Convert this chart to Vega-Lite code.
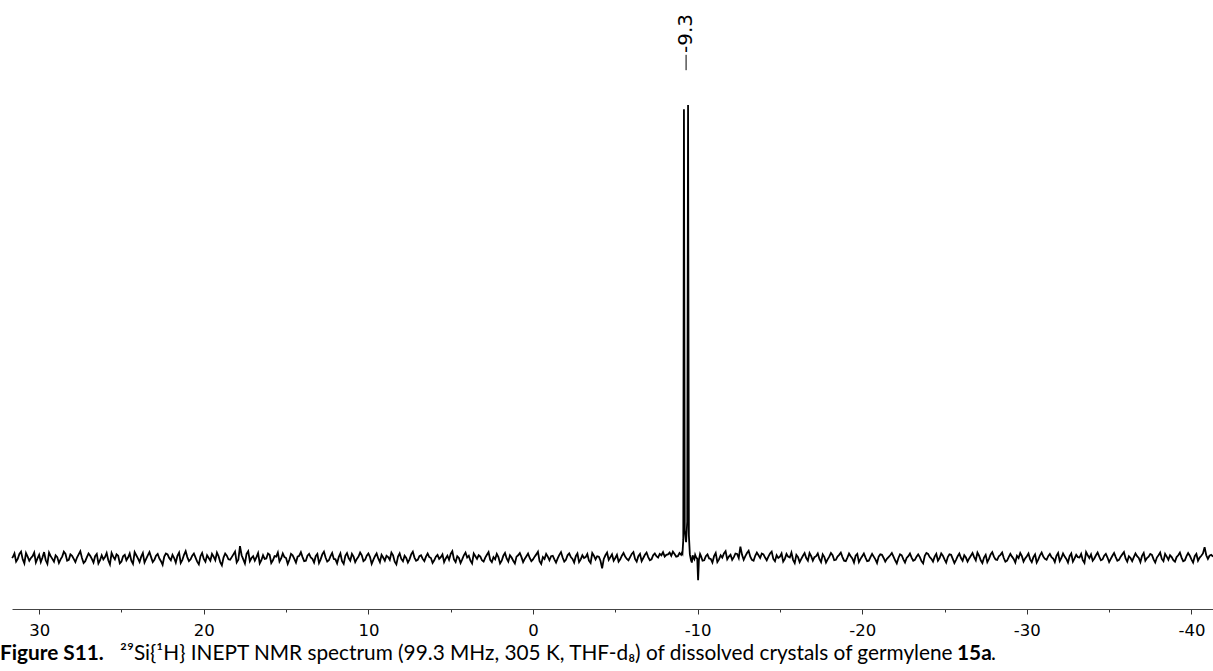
{
"$schema": "https://vega.github.io/schema/vega-lite/v6.json",
"width": 1201,
"height": 609,
"autosize": {"type": "none"},
"padding": {"left": 12, "top": 0, "right": 0, "bottom": 62},
"background": "white",
"config": {"view": {"stroke": null}},
"datasets": {
"spectrum": [
{"ppm":31.65,"i":0.0},
{"ppm":31.6,"i":0.2},{"ppm":31.5,"i":1.0},{"ppm":31.4,"i":-0.8},{"ppm":31.3,"i":-0.2},{"ppm":31.2,"i":0.9},{"ppm":31.1,"i":1.4},{"ppm":31.0,"i":-0.3},{"ppm":30.9,"i":-1.2},{"ppm":30.8,"i":1.1},{"ppm":30.7,"i":0.3},{"ppm":30.6,"i":-0.6},{"ppm":30.5,"i":0.0},{"ppm":30.4,"i":0.4},{"ppm":30.3,"i":1.2},{"ppm":30.2,"i":-1.0},{"ppm":30.1,"i":-0.1},{"ppm":30.0,"i":0.7},{"ppm":29.9,"i":-0.9},{"ppm":29.8,"i":0.1},{"ppm":29.7,"i":1.3},
{"ppm":29.6,"i":-0.5},{"ppm":29.5,"i":-1.3},{"ppm":29.4,"i":1.2},{"ppm":29.3,"i":0.4},{"ppm":29.2,"i":-0.2},{"ppm":29.1,"i":-0.8},{"ppm":29.0,"i":0.6},{"ppm":28.9,"i":0.2},{"ppm":28.8,"i":-1.1},{"ppm":28.7,"i":-0.3},{"ppm":28.6,"i":0.3},{"ppm":28.5,"i":1.4},{"ppm":28.4,"i":0.9},{"ppm":28.3,"i":-0.6},{"ppm":28.2,"i":-0.4},{"ppm":28.1,"i":0.8},{"ppm":28.0,"i":0.5},{"ppm":27.9,"i":-0.2},{"ppm":27.8,"i":-0.9},{"ppm":27.7,"i":0.1},
{"ppm":27.6,"i":0.8},{"ppm":27.5,"i":1.5},{"ppm":27.4,"i":0.0},{"ppm":27.3,"i":-1.1},{"ppm":27.2,"i":-0.7},{"ppm":27.1,"i":0.2},{"ppm":27.0,"i":1.0},{"ppm":26.9,"i":0.5},{"ppm":26.8,"i":-0.2},{"ppm":26.7,"i":-1.0},{"ppm":26.6,"i":0.4},{"ppm":26.5,"i":0.9},{"ppm":26.4,"i":-1.2},{"ppm":26.3,"i":-0.5},{"ppm":26.2,"i":0.6},{"ppm":26.1,"i":-0.3},{"ppm":26.0,"i":0.2},{"ppm":25.9,"i":1.1},{"ppm":25.8,"i":-0.5},{"ppm":25.7,"i":-1.4},
{"ppm":25.6,"i":1.1},{"ppm":25.5,"i":0.3},{"ppm":25.4,"i":-0.3},{"ppm":25.3,"i":0.8},{"ppm":25.2,"i":0.5},{"ppm":25.1,"i":-1.2},{"ppm":25.0,"i":-0.8},{"ppm":24.9,"i":0.4},{"ppm":24.8,"i":0.7},{"ppm":24.7,"i":-0.5},{"ppm":24.6,"i":0.1},{"ppm":24.5,"i":1.0},{"ppm":24.4,"i":-0.6},{"ppm":24.3,"i":-1.3},{"ppm":24.2,"i":1.3},{"ppm":24.1,"i":0.6},{"ppm":24.0,"i":-0.1},{"ppm":23.9,"i":-0.9},{"ppm":23.8,"i":0.3},{"ppm":23.7,"i":1.1},
{"ppm":23.6,"i":-1.0},{"ppm":23.5,"i":-0.2},{"ppm":23.4,"i":0.6},{"ppm":23.3,"i":1.3},{"ppm":23.2,"i":0.2},{"ppm":23.1,"i":-0.9},{"ppm":23.0,"i":-0.4},{"ppm":22.9,"i":0.5},{"ppm":22.8,"i":0.9},{"ppm":22.7,"i":-0.1},{"ppm":22.6,"i":-0.7},{"ppm":22.5,"i":-1.5},{"ppm":22.4,"i":0.3},{"ppm":22.3,"i":1.0},{"ppm":22.2,"i":0.8},{"ppm":22.1,"i":0.0},{"ppm":22.0,"i":-0.5},{"ppm":21.9,"i":0.7},{"ppm":21.8,"i":0.0},{"ppm":21.7,"i":-1.0},
{"ppm":21.6,"i":0.5},{"ppm":21.5,"i":1.2},{"ppm":21.4,"i":-1.1},{"ppm":21.3,"i":-0.4},{"ppm":21.2,"i":0.7},{"ppm":21.1,"i":1.5},{"ppm":21.0,"i":0.2},{"ppm":20.9,"i":-0.7},{"ppm":20.8,"i":-0.3},{"ppm":20.7,"i":0.5},{"ppm":20.6,"i":1.0},{"ppm":20.5,"i":0.1},{"ppm":20.4,"i":-0.8},{"ppm":20.3,"i":-1.4},{"ppm":20.2,"i":0.4},{"ppm":20.1,"i":1.1},{"ppm":20.0,"i":-0.2},{"ppm":19.9,"i":-0.8},{"ppm":19.8,"i":0.6},{"ppm":19.7,"i":0.0},
{"ppm":19.6,"i":-0.6},{"ppm":19.5,"i":0.9},{"ppm":19.4,"i":0.3},{"ppm":19.3,"i":-0.5},{"ppm":19.2,"i":1.2},{"ppm":19.1,"i":0.4},{"ppm":19.0,"i":-0.9},{"ppm":18.9,"i":-1.6},{"ppm":18.8,"i":0.1},{"ppm":18.7,"i":1.0},{"ppm":18.6,"i":0.5},{"ppm":18.5,"i":-0.3},{"ppm":18.4,"i":-0.4},{"ppm":18.3,"i":0.2},{"ppm":18.2,"i":0.8},{"ppm":18.1,"i":1.4},{"ppm":18.0,"i":-1.0},{"ppm":17.9,"i":-0.4},{"ppm":17.8,"i":2.6},{"ppm":17.7,"i":0.6},
{"ppm":17.6,"i":-0.3},{"ppm":17.5,"i":-1.2},{"ppm":17.4,"i":0.9},{"ppm":17.3,"i":1.5},{"ppm":17.2,"i":-0.7},{"ppm":17.1,"i":0.0},{"ppm":17.0,"i":0.4},{"ppm":16.9,"i":-0.6},{"ppm":16.8,"i":0.2},{"ppm":16.7,"i":1.1},{"ppm":16.6,"i":-1.2},{"ppm":16.5,"i":-0.5},{"ppm":16.4,"i":0.6},{"ppm":16.3,"i":-0.2},{"ppm":16.2,"i":-0.1},{"ppm":16.1,"i":1.0},{"ppm":16.0,"i":0.7},{"ppm":15.9,"i":-1.1},{"ppm":15.8,"i":-0.5},{"ppm":15.7,"i":0.4},
{"ppm":15.6,"i":0.3},{"ppm":15.5,"i":1.2},{"ppm":15.4,"i":-0.8},{"ppm":15.3,"i":-0.1},{"ppm":15.2,"i":1.0},{"ppm":15.1,"i":0.2},{"ppm":15.0,"i":0.0},{"ppm":14.9,"i":-1.3},{"ppm":14.8,"i":-0.4},{"ppm":14.7,"i":0.9},{"ppm":14.6,"i":0.6},{"ppm":14.5,"i":-0.2},{"ppm":14.4,"i":-1.0},{"ppm":14.3,"i":0.3},{"ppm":14.2,"i":0.5},{"ppm":14.1,"i":1.3},{"ppm":14.0,"i":0.2},{"ppm":13.9,"i":-0.7},{"ppm":13.8,"i":-0.6},{"ppm":13.7,"i":0.5},
{"ppm":13.6,"i":0.9},{"ppm":13.5,"i":0.1},{"ppm":13.4,"i":-0.2},{"ppm":13.3,"i":-1.0},{"ppm":13.2,"i":0.4},{"ppm":13.1,"i":0.9},{"ppm":13.0,"i":-1.1},{"ppm":12.9,"i":-0.3},{"ppm":12.8,"i":0.8},{"ppm":12.7,"i":1.4},{"ppm":12.6,"i":0.1},{"ppm":12.5,"i":-0.8},{"ppm":12.4,"i":-0.5},{"ppm":12.3,"i":0.4},{"ppm":12.2,"i":1.1},{"ppm":12.1,"i":-0.2},{"ppm":12.0,"i":-0.3},{"ppm":11.9,"i":-1.2},{"ppm":11.8,"i":0.2},{"ppm":11.7,"i":1.0},
{"ppm":11.6,"i":-0.7},{"ppm":11.5,"i":-1.3},{"ppm":11.4,"i":0.5},{"ppm":11.3,"i":1.1},{"ppm":11.2,"i":0.0},{"ppm":11.1,"i":-0.6},{"ppm":11.0,"i":0.9},{"ppm":10.9,"i":0.3},{"ppm":10.8,"i":-0.9},{"ppm":10.7,"i":-0.2},{"ppm":10.6,"i":0.3},{"ppm":10.5,"i":1.2},{"ppm":10.4,"i":0.6},{"ppm":10.3,"i":-0.7},{"ppm":10.2,"i":-0.4},{"ppm":10.1,"i":0.5},{"ppm":10.0,"i":1.0},{"ppm":9.9,"i":0.2},{"ppm":9.8,"i":-1.3},{"ppm":9.7,"i":-0.4},
{"ppm":9.6,"i":0.4},{"ppm":9.5,"i":1.0},{"ppm":9.4,"i":-0.1},{"ppm":9.3,"i":-0.9},{"ppm":9.2,"i":0.7},{"ppm":9.1,"i":0.1},{"ppm":9.0,"i":-0.6},{"ppm":8.9,"i":0.5},{"ppm":8.8,"i":0.2},{"ppm":8.7,"i":-0.4},{"ppm":8.6,"i":1.2},{"ppm":8.5,"i":0.6},{"ppm":8.4,"i":-0.8},{"ppm":8.3,"i":-1.4},{"ppm":8.2,"i":0.3},{"ppm":8.1,"i":1.0},{"ppm":8.0,"i":-0.2},{"ppm":7.9,"i":-0.7},{"ppm":7.8,"i":0.5},{"ppm":7.7,"i":0.0},
{"ppm":7.6,"i":-1.0},{"ppm":7.5,"i":-0.3},{"ppm":7.4,"i":0.8},{"ppm":7.3,"i":1.4},{"ppm":7.2,"i":0.1},{"ppm":7.1,"i":-0.6},{"ppm":7.0,"i":-0.4},{"ppm":6.9,"i":0.4},{"ppm":6.8,"i":0.6},{"ppm":6.7,"i":-0.2},{"ppm":6.6,"i":-0.7},{"ppm":6.5,"i":0.3},{"ppm":6.4,"i":1.0},{"ppm":6.3,"i":0.2},{"ppm":6.2,"i":0.0},{"ppm":6.1,"i":-1.1},{"ppm":6.0,"i":-0.5},{"ppm":5.9,"i":0.3},{"ppm":5.8,"i":0.7},{"ppm":5.7,"i":-0.2},
{"ppm":5.6,"i":0.2},{"ppm":5.5,"i":0.8},{"ppm":5.4,"i":-0.9},{"ppm":5.3,"i":-0.1},{"ppm":5.2,"i":0.5},{"ppm":5.1,"i":-0.4},{"ppm":5.0,"i":0.9},{"ppm":4.9,"i":1.5},{"ppm":4.8,"i":-0.3},{"ppm":4.7,"i":-0.9},{"ppm":4.6,"i":0.4},{"ppm":4.5,"i":0.0},{"ppm":4.4,"i":-1.1},{"ppm":4.3,"i":-0.3},{"ppm":4.2,"i":0.6},{"ppm":4.1,"i":1.2},{"ppm":4.0,"i":0.1},{"ppm":3.9,"i":0.5},{"ppm":3.8,"i":-0.6},{"ppm":3.7,"i":-1.2},
{"ppm":3.6,"i":1.0},{"ppm":3.5,"i":0.4},{"ppm":3.4,"i":-0.2},{"ppm":3.3,"i":0.6},{"ppm":3.2,"i":0.3},{"ppm":3.1,"i":-0.5},{"ppm":3.0,"i":-0.8},{"ppm":2.9,"i":0.1},{"ppm":2.8,"i":0.7},{"ppm":2.7,"i":1.3},{"ppm":2.6,"i":-0.4},{"ppm":2.5,"i":-0.9},{"ppm":2.4,"i":0.2},{"ppm":2.3,"i":-0.3},{"ppm":2.2,"i":0.9},{"ppm":2.1,"i":0.2},{"ppm":2.0,"i":-1.2},{"ppm":1.9,"i":-0.6},{"ppm":1.8,"i":0.5},{"ppm":1.7,"i":1.1},
{"ppm":1.6,"i":-0.1},{"ppm":1.5,"i":-0.8},{"ppm":1.4,"i":0.6},{"ppm":1.3,"i":0.1},{"ppm":1.2,"i":-0.6},{"ppm":1.1,"i":-1.2},{"ppm":1.0,"i":0.3},{"ppm":0.9,"i":0.6},{"ppm":0.8,"i":1.1},{"ppm":0.7,"i":0.2},{"ppm":0.6,"i":-0.9},{"ppm":0.5,"i":-0.2},{"ppm":0.4,"i":0.4},{"ppm":0.3,"i":1.0},{"ppm":0.2,"i":0.0},{"ppm":0.1,"i":-0.7},{"ppm":0.0,"i":-0.3},{"ppm":-0.1,"i":0.3},{"ppm":-0.2,"i":0.8},{"ppm":-0.3,"i":1.4},
{"ppm":-0.4,"i":-0.7},{"ppm":-0.5,"i":-1.3},{"ppm":-0.6,"i":0.2},{"ppm":-0.7,"i":-0.2},{"ppm":-0.8,"i":0.9},{"ppm":-0.9,"i":0.3},{"ppm":-1.0,"i":-0.5},{"ppm":-1.1,"i":0.4},{"ppm":-1.2,"i":0.5},{"ppm":-1.3,"i":-0.3},{"ppm":-1.4,"i":-1.0},{"ppm":-1.5,"i":-0.1},{"ppm":-1.6,"i":0.7},{"ppm":-1.7,"i":1.3},{"ppm":-1.8,"i":0.1},{"ppm":-1.9,"i":-0.8},{"ppm":-2.0,"i":-0.4},{"ppm":-2.1,"i":0.6},{"ppm":-2.2,"i":1.0},{"ppm":-2.3,"i":0.2},
{"ppm":-2.4,"i":-0.2},{"ppm":-2.5,"i":-1.0},{"ppm":-2.6,"i":0.4},{"ppm":-2.7,"i":1.0},{"ppm":-2.8,"i":-0.9},{"ppm":-2.9,"i":-0.3},{"ppm":-3.0,"i":0.6},{"ppm":-3.1,"i":0.0},{"ppm":-3.2,"i":0.2},{"ppm":-3.3,"i":0.9},{"ppm":-3.4,"i":-0.6},{"ppm":-3.5,"i":-1.1},{"ppm":-3.6,"i":1.1},{"ppm":-3.7,"i":0.5},{"ppm":-3.8,"i":-0.3},{"ppm":-3.9,"i":0.4},{"ppm":-4.0,"i":0.3},{"ppm":-4.1,"i":-0.6},{"ppm":-4.2,"i":-2.3},{"ppm":-4.3,"i":-0.2},
{"ppm":-4.4,"i":0.6},{"ppm":-4.5,"i":1.2},{"ppm":-4.6,"i":-0.4},{"ppm":-4.7,"i":0.2},{"ppm":-4.8,"i":0.8},{"ppm":-4.9,"i":-0.6},{"ppm":-5.0,"i":0.0},{"ppm":-5.1,"i":0.7},{"ppm":-5.2,"i":-0.8},{"ppm":-5.3,"i":-0.3},{"ppm":-5.4,"i":0.5},{"ppm":-5.5,"i":1.1},{"ppm":-5.6,"i":0.3},{"ppm":-5.7,"i":-0.2},{"ppm":-5.8,"i":-0.5},{"ppm":-5.9,"i":0.2},{"ppm":-6.0,"i":0.9},{"ppm":-6.1,"i":1.3},{"ppm":-6.2,"i":-0.2},{"ppm":-6.3,"i":-0.8},
{"ppm":-6.4,"i":0.4},{"ppm":-6.5,"i":0.9},{"ppm":-6.6,"i":-0.7},{"ppm":-6.7,"i":0.0},{"ppm":-6.8,"i":0.7},{"ppm":-6.9,"i":1.2},{"ppm":-7.0,"i":0.2},{"ppm":-7.1,"i":-0.5},{"ppm":-7.2,"i":-0.3},{"ppm":-7.3,"i":0.6},{"ppm":-7.4,"i":1.0},{"ppm":-7.5,"i":0.4},{"ppm":-7.6,"i":0.1},{"ppm":-7.7,"i":0.9},{"ppm":-7.8,"i":0.6},{"ppm":-7.9,"i":1.3},{"ppm":-8.0,"i":0.3},{"ppm":-8.1,"i":0.7},{"ppm":-8.2,"i":0.8},{"ppm":-8.3,"i":1.2},
{"ppm":-8.4,"i":0.5},{"ppm":-8.5,"i":1.4},{"ppm":-8.6,"i":0.9},{"ppm":-8.7,"i":0.3},{"ppm":-8.8,"i":0.4},{"ppm":-8.9,"i":1.1},{"ppm":-9.0,"i":0.7},{"ppm":-9.05,"i":1.2},{"ppm":-9.08,"i":1.0},{"ppm":-9.13,"i":4.0},{"ppm":-9.17,"i":99.1},{"ppm":-9.22,"i":6.0},{"ppm":-9.3,"i":3.5},{"ppm":-9.37,"i":8.0},{"ppm":-9.42,"i":100},{"ppm":-9.47,"i":5.0},{"ppm":-9.53,"i":0.8},{"ppm":-9.6,"i":-0.5},{"ppm":-9.65,"i":-1.0},{"ppm":-9.7,"i":0.6},{"ppm":-9.75,"i":0.0},{"ppm":-9.8,"i":-0.3},{"ppm":-9.85,"i":0.7},{"ppm":-9.9,"i":0.2},{"ppm":-9.98,"i":-0.2},{"ppm":-10.03,"i":-4.9},{"ppm":-10.08,"i":-0.4},{"ppm":-10.15,"i":0.9},{"ppm":-10.2,"i":0.5},{"ppm":-10.3,"i":-0.6},
{"ppm":-10.4,"i":-0.5},{"ppm":-10.5,"i":0.4},{"ppm":-10.6,"i":0.8},{"ppm":-10.7,"i":-0.1},{"ppm":-10.8,"i":-0.2},{"ppm":-10.9,"i":-1.0},{"ppm":-11.0,"i":0.4},{"ppm":-11.1,"i":1.1},{"ppm":-11.2,"i":-0.9},{"ppm":-11.3,"i":-0.3},{"ppm":-11.4,"i":0.6},{"ppm":-11.5,"i":0.1},{"ppm":-11.6,"i":1.0},{"ppm":-11.7,"i":1.5},{"ppm":-11.8,"i":-0.3},{"ppm":-11.9,"i":0.3},{"ppm":-12.0,"i":0.7},{"ppm":-12.1,"i":-0.4},{"ppm":-12.2,"i":0.2},{"ppm":-12.3,"i":1.0},
{"ppm":-12.4,"i":0.9},{"ppm":-12.5,"i":0.0},{"ppm":-12.6,"i":2.5},{"ppm":-12.7,"i":0.7},{"ppm":-12.8,"i":-0.4},{"ppm":-12.9,"i":0.4},{"ppm":-13.0,"i":1.1},{"ppm":-13.1,"i":1.6},{"ppm":-13.2,"i":0.3},{"ppm":-13.3,"i":-0.4},{"ppm":-13.4,"i":-0.6},{"ppm":-13.5,"i":0.5},{"ppm":-13.6,"i":1.2},{"ppm":-13.7,"i":0.6},{"ppm":-13.8,"i":0.0},{"ppm":-13.9,"i":1.0},{"ppm":-14.0,"i":0.8},{"ppm":-14.1,"i":0.1},{"ppm":-14.2,"i":-0.5},{"ppm":-14.3,"i":0.3},
{"ppm":-14.4,"i":1.0},{"ppm":-14.5,"i":1.4},{"ppm":-14.6,"i":-0.2},{"ppm":-14.7,"i":-0.7},{"ppm":-14.8,"i":0.6},{"ppm":-14.9,"i":0.0},{"ppm":-15.0,"i":0.3},{"ppm":-15.1,"i":1.0},{"ppm":-15.2,"i":-0.8},{"ppm":-15.3,"i":-0.2},{"ppm":-15.4,"i":0.9},{"ppm":-15.5,"i":0.3},{"ppm":-15.6,"i":0.1},{"ppm":-15.7,"i":1.2},{"ppm":-15.8,"i":-0.4},{"ppm":-15.9,"i":-1.1},{"ppm":-16.0,"i":0.7},{"ppm":-16.1,"i":0.2},{"ppm":-16.2,"i":-0.9},{"ppm":-16.3,"i":-0.2},
{"ppm":-16.4,"i":0.5},{"ppm":-16.5,"i":1.1},{"ppm":-16.6,"i":0.0},{"ppm":-16.7,"i":-0.6},{"ppm":-16.8,"i":1.1},{"ppm":-16.9,"i":0.4},{"ppm":-17.0,"i":-0.6},{"ppm":-17.1,"i":0.2},{"ppm":-17.2,"i":0.4},{"ppm":-17.3,"i":1.0},{"ppm":-17.4,"i":-0.2},{"ppm":-17.5,"i":-0.9},{"ppm":-17.6,"i":0.8},{"ppm":-17.7,"i":0.2},{"ppm":-17.8,"i":-1.0},{"ppm":-17.9,"i":-0.3},{"ppm":-18.0,"i":0.3},{"ppm":-18.1,"i":1.1},{"ppm":-18.2,"i":0.6},{"ppm":-18.3,"i":-0.5},
{"ppm":-18.4,"i":-0.4},{"ppm":-18.5,"i":0.3},{"ppm":-18.6,"i":0.7},{"ppm":-18.7,"i":1.2},{"ppm":-18.8,"i":0.2},{"ppm":-18.9,"i":-0.6},{"ppm":-19.0,"i":-0.7},{"ppm":-19.1,"i":0.1},{"ppm":-19.2,"i":1.0},{"ppm":-19.3,"i":0.4},{"ppm":-19.4,"i":-0.1},{"ppm":-19.5,"i":-1.0},{"ppm":-19.6,"i":0.5},{"ppm":-19.7,"i":0.9},{"ppm":-19.8,"i":-0.9},{"ppm":-19.9,"i":-0.2},{"ppm":-20.0,"i":0.4},{"ppm":-20.1,"i":1.0},{"ppm":-20.2,"i":0.1},{"ppm":-20.3,"i":-0.7},
{"ppm":-20.4,"i":-0.6},{"ppm":-20.5,"i":0.2},{"ppm":-20.6,"i":0.9},{"ppm":-20.7,"i":0.3},{"ppm":-20.8,"i":-0.3},{"ppm":-20.9,"i":-1.1},{"ppm":-21.0,"i":0.3},{"ppm":-21.1,"i":0.8},{"ppm":-21.2,"i":0.7},{"ppm":-21.3,"i":0.0},{"ppm":-21.4,"i":-0.8},{"ppm":-21.5,"i":-0.2},{"ppm":-21.6,"i":0.2},{"ppm":-21.7,"i":0.6},{"ppm":-21.8,"i":1.1},{"ppm":-21.9,"i":0.3},{"ppm":-22.0,"i":-0.5},{"ppm":-22.1,"i":-1.2},{"ppm":-22.2,"i":0.0},{"ppm":-22.3,"i":0.8},
{"ppm":-22.4,"i":0.6},{"ppm":-22.5,"i":-0.3},{"ppm":-22.6,"i":-1.0},{"ppm":-22.7,"i":0.0},{"ppm":-22.8,"i":0.4},{"ppm":-22.9,"i":1.0},{"ppm":-23.0,"i":0.1},{"ppm":-23.1,"i":-0.6},{"ppm":-23.2,"i":-0.4},{"ppm":-23.3,"i":0.3},{"ppm":-23.4,"i":0.8},{"ppm":-23.5,"i":0.2},{"ppm":-23.6,"i":-0.7},{"ppm":-23.7,"i":-1.2},{"ppm":-23.8,"i":0.5},{"ppm":-23.9,"i":1.1},{"ppm":-24.0,"i":0.9},{"ppm":-24.1,"i":0.2},{"ppm":-24.2,"i":-0.2},{"ppm":-24.3,"i":-0.8},
{"ppm":-24.4,"i":0.3},{"ppm":-24.5,"i":0.9},{"ppm":-24.6,"i":-0.6},{"ppm":-24.7,"i":0.0},{"ppm":-24.8,"i":1.0},{"ppm":-24.9,"i":0.5},{"ppm":-25.0,"i":-0.3},{"ppm":-25.1,"i":-1.0},{"ppm":-25.2,"i":0.2},{"ppm":-25.3,"i":0.8},{"ppm":-25.4,"i":0.7},{"ppm":-25.5,"i":-0.2},{"ppm":-25.6,"i":-1.1},{"ppm":-25.7,"i":-0.4},{"ppm":-25.8,"i":0.4},{"ppm":-25.9,"i":1.0},{"ppm":-26.0,"i":0.0},{"ppm":-26.1,"i":-0.6},{"ppm":-26.2,"i":0.6},{"ppm":-26.3,"i":0.1},
{"ppm":-26.4,"i":-0.8},{"ppm":-26.5,"i":-0.1},{"ppm":-26.6,"i":0.5},{"ppm":-26.7,"i":1.1},{"ppm":-26.8,"i":0.2},{"ppm":-26.9,"i":-0.5},{"ppm":-27.0,"i":1.2},{"ppm":-27.1,"i":0.5},{"ppm":-27.2,"i":-0.5},{"ppm":-27.3,"i":-1.1},{"ppm":-27.4,"i":0.1},{"ppm":-27.5,"i":0.7},{"ppm":-27.6,"i":-0.9},{"ppm":-27.7,"i":-0.2},{"ppm":-27.8,"i":0.8},{"ppm":-27.9,"i":1.3},{"ppm":-28.0,"i":0.3},{"ppm":-28.1,"i":-0.3},{"ppm":-28.2,"i":-0.4},{"ppm":-28.3,"i":0.4},
{"ppm":-28.4,"i":0.7},{"ppm":-28.5,"i":1.2},{"ppm":-28.6,"i":0.0},{"ppm":-28.7,"i":-0.8},{"ppm":-28.8,"i":-0.6},{"ppm":-28.9,"i":0.2},{"ppm":-29.0,"i":0.9},{"ppm":-29.1,"i":0.3},{"ppm":-29.2,"i":-0.2},{"ppm":-29.3,"i":-1.0},{"ppm":-29.4,"i":0.5},{"ppm":-29.5,"i":0.0},{"ppm":-29.6,"i":1.1},{"ppm":-29.7,"i":0.4},{"ppm":-29.8,"i":-0.8},{"ppm":-29.9,"i":-0.1},{"ppm":-30.0,"i":0.4},{"ppm":-30.1,"i":1.0},{"ppm":-30.2,"i":-0.3},{"ppm":-30.3,"i":-0.9},
{"ppm":-30.4,"i":0.2},{"ppm":-30.5,"i":0.8},{"ppm":-30.6,"i":-1.0},{"ppm":-30.7,"i":-0.3},{"ppm":-30.8,"i":0.6},{"ppm":-30.9,"i":1.2},{"ppm":-31.0,"i":0.3},{"ppm":-31.1,"i":-0.2},{"ppm":-31.2,"i":-0.4},{"ppm":-31.3,"i":0.4},{"ppm":-31.4,"i":0.9},{"ppm":-31.5,"i":0.2},{"ppm":-31.6,"i":-0.1},{"ppm":-31.7,"i":-0.9},{"ppm":-31.8,"i":0.5},{"ppm":-31.9,"i":1.1},{"ppm":-32.0,"i":-0.7},{"ppm":-32.1,"i":0.0},{"ppm":-32.2,"i":1.0},{"ppm":-32.3,"i":0.3},
{"ppm":-32.4,"i":-0.2},{"ppm":-32.5,"i":-1.0},{"ppm":-32.6,"i":0.4},{"ppm":-32.7,"i":1.0},{"ppm":-32.8,"i":-0.8},{"ppm":-32.9,"i":-0.1},{"ppm":-33.0,"i":0.7},{"ppm":-33.1,"i":0.2},{"ppm":-33.2,"i":0.1},{"ppm":-33.3,"i":0.9},{"ppm":-33.4,"i":-0.5},{"ppm":-33.5,"i":-1.1},{"ppm":-33.6,"i":1.3},{"ppm":-33.7,"i":0.6},{"ppm":-33.8,"i":0.0},{"ppm":-33.9,"i":0.8},{"ppm":-34.0,"i":-0.6},{"ppm":-34.1,"i":-0.1},{"ppm":-34.2,"i":0.6},{"ppm":-34.3,"i":1.2},
{"ppm":-34.4,"i":0.3},{"ppm":-34.5,"i":-0.5},{"ppm":-34.6,"i":-0.3},{"ppm":-34.7,"i":0.5},{"ppm":-34.8,"i":0.9},{"ppm":-34.9,"i":0.1},{"ppm":-35.0,"i":-0.9},{"ppm":-35.1,"i":-0.2},{"ppm":-35.2,"i":0.5},{"ppm":-35.3,"i":1.1},{"ppm":-35.4,"i":0.2},{"ppm":-35.5,"i":-0.6},{"ppm":-35.6,"i":-0.4},{"ppm":-35.7,"i":0.3},{"ppm":-35.8,"i":0.8},{"ppm":-35.9,"i":1.3},{"ppm":-36.0,"i":-0.1},{"ppm":-36.1,"i":-0.8},{"ppm":-36.2,"i":0.4},{"ppm":-36.3,"i":0.0},
{"ppm":-36.4,"i":-0.7},{"ppm":-36.5,"i":0.2},{"ppm":-36.6,"i":1.0},{"ppm":-36.7,"i":0.4},{"ppm":-36.8,"i":0.0},{"ppm":-36.9,"i":-0.9},{"ppm":-37.0,"i":0.5},{"ppm":-37.1,"i":1.1},{"ppm":-37.2,"i":-0.6},{"ppm":-37.3,"i":0.0},{"ppm":-37.4,"i":0.3},{"ppm":-37.5,"i":0.9},{"ppm":-37.6,"i":0.7},{"ppm":-37.7,"i":-0.3},{"ppm":-37.8,"i":-1.0},{"ppm":-37.9,"i":0.1},{"ppm":-38.0,"i":0.6},{"ppm":-38.1,"i":1.2},{"ppm":-38.2,"i":-0.2},{"ppm":-38.3,"i":-0.7},
{"ppm":-38.4,"i":0.9},{"ppm":-38.5,"i":0.3},{"ppm":-38.6,"i":-0.4},{"ppm":-38.7,"i":0.6},{"ppm":-38.8,"i":0.2},{"ppm":-38.9,"i":-0.5},{"ppm":-39.0,"i":-0.8},{"ppm":-39.1,"i":0.2},{"ppm":-39.2,"i":0.6},{"ppm":-39.3,"i":1.2},{"ppm":-39.4,"i":0.1},{"ppm":-39.5,"i":-0.7},{"ppm":-39.6,"i":-0.5},{"ppm":-39.7,"i":0.4},{"ppm":-39.8,"i":1.1},{"ppm":-39.9,"i":0.5},{"ppm":-40.0,"i":-0.3},{"ppm":-40.1,"i":-1.0},{"ppm":-40.2,"i":0.4},{"ppm":-40.3,"i":0.9},
{"ppm":-40.4,"i":-0.6},{"ppm":-40.5,"i":0.1},{"ppm":-40.6,"i":0.5},{"ppm":-40.7,"i":1.0},{"ppm":-40.8,"i":2.4},{"ppm":-40.9,"i":0.6},{"ppm":-41.0,"i":-0.2},{"ppm":-41.1,"i":0.5},{"ppm":-41.2,"i":0.7},{"ppm":-41.31,"i":0.3}
],
"peaklabel": [{"ppm": -9.3, "label": "-9.3", "ly": 115.8, "ltop": 111.1, "lbottom": 107.7}],
"captionBold": [{"ppm": 32.38, "cy": -22.5, "t": "Figure S11."}, {"ppm": -25.76, "cy": -22.5, "t": "15a"}],
"captionNormal": [{"ppm": 25.09, "cy": -22.5, "t": "²⁹Si{¹H} INEPT NMR spectrum (99.3 MHz, 305 K, THF-d₈) of dissolved crystals of germylene"}, {"ppm": -27.82, "cy": -22.5, "t": "."}]
},
"layer": [
{
"data": {"name": "spectrum"},
"mark": {"type": "line", "color": "black", "strokeWidth": 1.8},
"encoding": {
"x": {"field": "ppm", "type": "quantitative",
"scale": {"domain": [31.65, -41.31], "nice": false, "zero": false},
"axis": {"title": null, "grid": false,
"values": [30, 25, 20, 15, 10, 5, 0, -5, -10, -15, -20, -25, -30, -35, -40],
"labelExpr": "datum.value % 10 === 0 ? '' + datum.value : ''",
"tickSize": {"condition": {"test": "datum.value % 10 === 0", "value": 5}, "value": 3},
"tickColor": "#333333", "domainColor": "#444444", "domainWidth": 1,
"labelFont": "DejaVu Sans", "labelFontSize": 16.5, "labelColor": "black",
"labelPadding": 8, "labelOverlap": false, "labelFlush": false}},
"y": {"field": "i", "type": "quantitative",
"scale": {"domain": [-11.26, 123.2], "nice": false, "zero": false},
"axis": null}
}
},
{
"data": {"name": "peaklabel"},
"mark": {"type": "text", "angle": 270, "font": "DejaVu Sans", "fontSize": 20, "align": "center", "baseline": "middle", "color": "black"},
"encoding": {
"x": {"field": "ppm", "type": "quantitative"},
"y": {"field": "ly", "type": "quantitative"},
"text": {"field": "label"}
}
},
{
"data": {"name": "peaklabel"},
"mark": {"type": "rule", "color": "black", "strokeWidth": 1},
"encoding": {
"x": {"field": "ppm", "type": "quantitative"},
"y": {"field": "ltop", "type": "quantitative"},
"y2": {"field": "lbottom"}
}
},
{
"data": {"name": "captionBold"},
"mark": {"type": "text", "align": "left", "baseline": "alphabetic", "font": "Lato", "fontSize": 20.8, "fontWeight": "bold", "color": "black"},
"encoding": {
"x": {"field": "ppm", "type": "quantitative"},
"y": {"field": "cy", "type": "quantitative"},
"text": {"field": "t"}
}
},
{
"data": {"name": "captionNormal"},
"mark": {"type": "text", "align": "left", "baseline": "alphabetic", "font": "Lato", "fontSize": 20.8, "color": "black"},
"encoding": {
"x": {"field": "ppm", "type": "quantitative"},
"y": {"field": "cy", "type": "quantitative"},
"text": {"field": "t"}
}
}
]
}
